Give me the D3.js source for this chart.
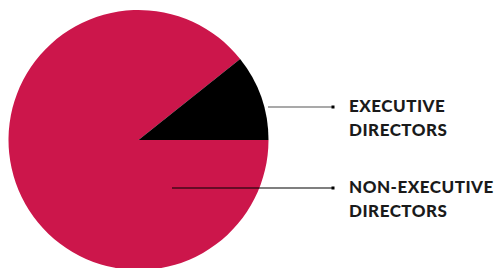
<!DOCTYPE html>
<html>
<head>
<meta charset="utf-8">
<script src="https://cdn.jsdelivr.net/npm/d3@7"></script>
<style>
  body { margin: 0; background: #fff; }
  svg { display: block; }
</style>
</head>
<body>
<svg id="chart" width="502" height="268"></svg>
<script>
const categories = ['NON-EXECUTIVE DIRECTORS', 'EXECUTIVE DIRECTORS'];
const values = [25, 3];
const colors = ['#cc164b', '#000000'];

const width = 502, height = 268;
const cx = 138.5, cy = 140, radius = 130;

const svg = d3.select('#chart');
const chart = svg.append('g')
  .attr('transform', 'translate(' + cx + ',' + cy + ')');

const pie = d3.pie()
  .sort(null)
  .startAngle(Math.PI / 2)
  .endAngle(Math.PI / 2 + 2 * Math.PI);

const arcs = pie(values);
const arc = d3.arc().innerRadius(0).outerRadius(radius);

chart.selectAll('.slice')
  .data(arcs)
  .enter().append('path')
  .attr('class', 'slice')
  .attr('d', arc)
  .style('fill', (d, i) => colors[i]);

// leader lines + labels
const labels = [
  {i: 1, y: 107, x0: 268, stroke: '#555'},
  {i: 0, y: 188, x0: 172, stroke: '#000'}
];
const lineEnd = 333, textX = 349;

labels.forEach(row => {
  svg.append('line')
    .attr('x1', row.x0).attr('x2', lineEnd)
    .attr('y1', row.y).attr('y2', row.y)
    .style('stroke', row.stroke)
    .style('stroke-width', 1.2);
  svg.append('rect')
    .attr('x', lineEnd - 1.5).attr('y', row.y - 1.5)
    .attr('width', 3).attr('height', 3)
    .style('fill', '#000');
  const words = categories[row.i].split(' ');
  words.forEach((w, k) => {
    svg.append('text')
      .attr('x', textX)
      .attr('y', row.y + 4.7 + k * 24)
      .style('font-family', 'Lato, sans-serif')
      .style('font-weight', '900')
      .style('font-size', '17px')
      .style('letter-spacing', '0.5px')
      .style('fill', '#1a1a1a')
      .text(w);
  });
});
</script>
</body>
</html>
